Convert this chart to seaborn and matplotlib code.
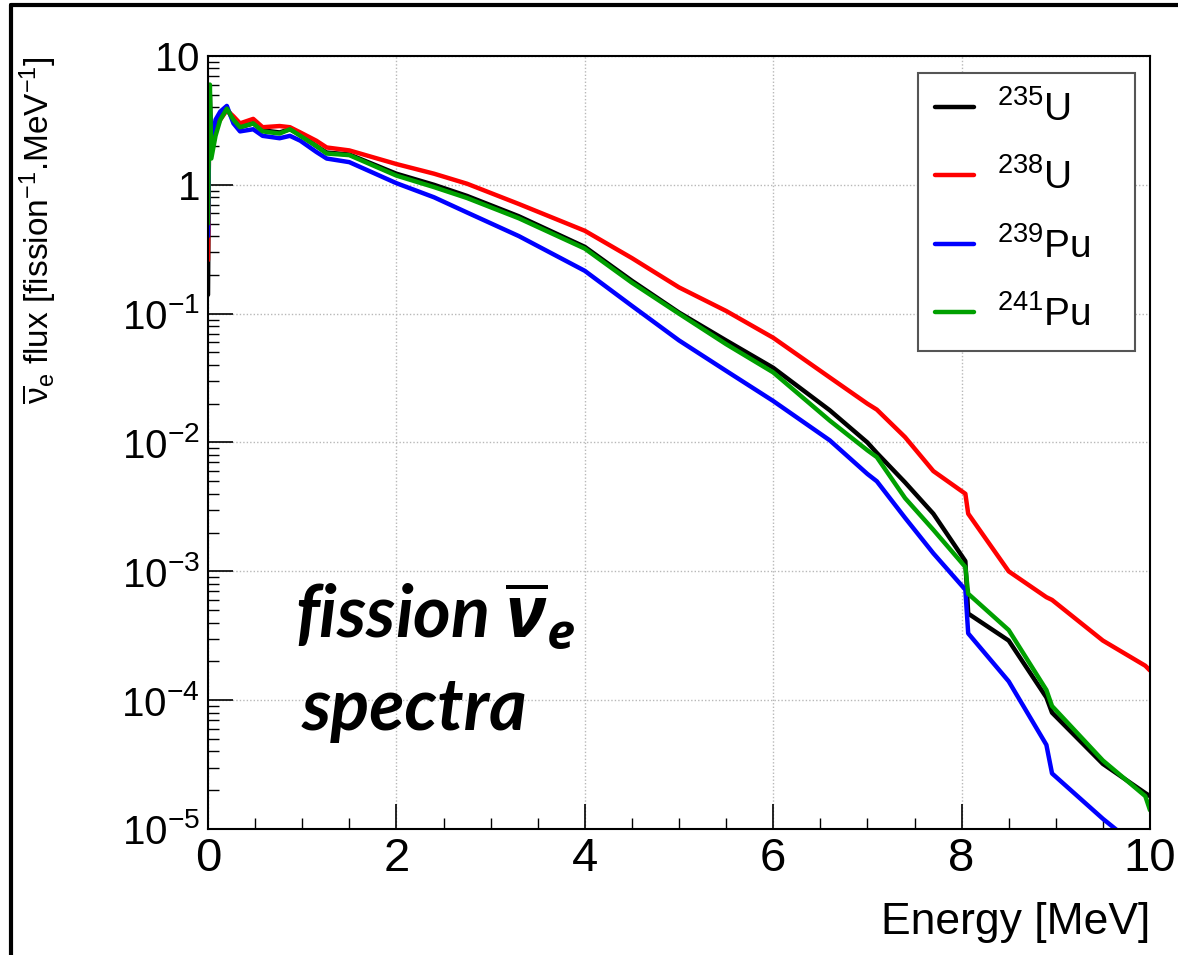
import numpy as np
import pandas as pd
import matplotlib
matplotlib.use('Agg')
import matplotlib.pyplot as plt
import seaborn as sns
from matplotlib.ticker import MultipleLocator, LogLocator, FixedLocator, FixedFormatter, NullFormatter
from matplotlib.lines import Line2D

# energy grid (MeV) and spectra
energy = [0.0, 0.01, 0.02, 0.035, 0.08, 0.13, 0.2, 0.27, 0.34, 0.48, 0.58, 0.76,
          0.87, 0.98, 1.15, 1.26, 1.5, 2.0, 2.4, 2.75, 3.3, 4.0, 4.5, 5.0, 5.5,
          6.0, 6.6, 7.0, 7.1, 7.4, 7.7, 8.04, 8.07, 8.5, 8.9, 8.96, 9.5, 9.95, 10.0]

u235 = [0.14, 2.0, 5.0, 1.8, 2.6, 3.4, 3.9, 3.2, 2.8, 3.0, 2.65, 2.55,
        2.7, 2.45, 2.0, 1.78, 1.72, 1.22, 1.0, 0.82, 0.57, 0.33, 0.18, 0.102, 0.062,
        0.038, 0.0178, 0.0100, 0.0083, 0.0049, 0.0028, 0.00120, 0.00047, 0.00029, 1.05e-4, 8.0e-5, 3.2e-5, 1.9e-5, 1.8e-5]

u238 = [0.26, 1.8, 3.0, 2.2, 2.8, 3.2, 3.8, 3.4, 3.0, 3.25, 2.8, 2.86,
        2.8, 2.55, 2.2, 1.95, 1.85, 1.45, 1.22, 1.02, 0.71, 0.44, 0.27, 0.16, 0.105,
        0.065, 0.032, 0.020, 0.018, 0.011, 0.0060, 0.0040, 0.0028, 0.0010, 6.3e-4, 6.0e-4, 2.9e-4, 1.85e-4, 1.7e-4]

pu239 = [0.40, 2.2, 3.5, 2.0, 3.2, 3.7, 4.1, 3.0, 2.6, 2.7, 2.4, 2.3,
         2.4, 2.2, 1.8, 1.6, 1.5, 1.03, 0.8, 0.61, 0.40, 0.215, 0.115, 0.062, 0.036,
         0.021, 0.0104, 0.0057, 0.0050, 0.0026, 0.00138, 0.00072, 0.00033, 1.4e-4, 4.5e-5, 2.7e-5, 1.2e-5, 6.5e-6, 6.0e-6]

pu241 = [0.50, 2.5, 6.0, 1.6, 2.4, 3.2, 3.9, 3.2, 2.8, 3.0, 2.6, 2.5,
         2.7, 2.4, 2.0, 1.75, 1.7, 1.18, 0.96, 0.79, 0.55, 0.32, 0.174, 0.10, 0.058,
         0.035, 0.0148, 0.0087, 0.0077, 0.0037, 0.0021, 0.00108, 0.00067, 3.5e-4, 1.2e-4, 9.0e-5, 3.4e-5, 1.8e-5, 1.4e-5]

isotopes = ['235U', '238U', '239Pu', '241Pu']
legend_labels = [r'$^{235}$U', r'$^{238}$U', r'$^{239}$Pu', r'$^{241}$Pu']
colors = ['#000000', '#ff0000', '#0000ff', '#00a000']

df = pd.concat([
    pd.DataFrame({'energy': energy, 'flux': vals, 'isotope': name})
    for name, vals in zip(isotopes, [u235, u238, pu239, pu241])
], ignore_index=True)

sns.set_style('white')
plt.rcParams['font.family'] = ['Liberation Sans', 'DejaVu Sans']
plt.rcParams['text.color'] = 'black'
plt.rcParams['axes.labelcolor'] = 'black'
plt.rcParams['xtick.color'] = 'black'
plt.rcParams['ytick.color'] = 'black'
plt.rcParams['mathtext.fontset'] = 'custom'
plt.rcParams['mathtext.rm'] = 'Liberation Sans'
plt.rcParams['mathtext.it'] = 'Open Sans:italic:bold'
plt.rcParams['mathtext.bf'] = 'Liberation Sans:bold'

fig = plt.figure(figsize=(11.78, 9.55), dpi=100)
ax = fig.add_axes([208 / 1178, 1 - 829 / 955, 942 / 1178, 773 / 955])

sns.lineplot(data=df, x='energy', y='flux', hue='isotope', hue_order=isotopes,
             palette=dict(zip(isotopes, colors)), estimator=None, sort=True,
             linewidth=3.2, legend=False, ax=ax)

ax.set_yscale('log')
ax.set_xlim(0, 10)
ax.set_ylim(1e-5, 10)

# ticks, ROOT style (inside, left/bottom only)
ax.xaxis.set_major_locator(MultipleLocator(2))
ax.xaxis.set_minor_locator(MultipleLocator(0.5))
yt = [1e-5, 1e-4, 1e-3, 1e-2, 1e-1, 1, 10]
ax.yaxis.set_major_locator(FixedLocator(yt))
ax.yaxis.set_major_formatter(FixedFormatter([r'$10^{-5}$', r'$10^{-4}$', r'$10^{-3}$',
                                             r'$10^{-2}$', r'$10^{-1}$', r'$1$', r'$10$']))
ax.yaxis.set_minor_locator(LogLocator(base=10, subs=np.arange(2, 10)))
ax.yaxis.set_minor_formatter(NullFormatter())
ax.tick_params(which='both', direction='in', bottom=True, left=True, top=False, right=False)
ax.tick_params(which='major', length=18, width=1.2, pad=6)
ax.tick_params(which='minor', length=8, width=1.0)
ax.tick_params(axis='x', labelsize=34)
ax.tick_params(axis='y', labelsize=29)

ax.grid(True, which='major', linestyle=(0, (1, 1.5)), color='#b8b8b8', linewidth=1)
for s in ax.spines.values():
    s.set_color('black')
    s.set_linewidth(1.5)

ax.set_xlabel('Energy [MeV]', fontsize=32, loc='right')
ax.xaxis.set_label_coords(1.0, -0.095)
ax.set_ylabel(r'$\overline{\mathrm{\nu}}_{\mathrm{e}}$ flux [fission$^{\mathrm{-1}}$.MeV$^{\mathrm{-1}}$]',
              fontsize=24, loc='top')
ax.yaxis.set_label_coords(-0.158, 1.0)

ax.legend(handles=ax.lines[:4], labels=legend_labels, loc='upper left',
          bbox_to_anchor=(0.7537, 0.616, 0.2304, 0.362), mode='expand',
          fontsize=28, frameon=True, fancybox=False,
          edgecolor='#555555', framealpha=1, handlelength=1.0, handletextpad=0.6,
          labelspacing=0.77, borderpad=0.44, borderaxespad=0)
ax.get_legend().get_frame().set_linewidth(1.5)

ax.text(0.092, 0.248, r'fission $\overline{\nu}_e$', transform=ax.transAxes,
        fontsize=52, fontfamily='Lato', fontweight='bold', fontstyle='italic', va='baseline')
ax.text(0.099, 0.128, 'spectra', transform=ax.transAxes,
        fontsize=52, fontfamily='Lato', fontweight='bold', fontstyle='italic', va='baseline')

# screenshot border on left and top
fig.add_artist(Line2D([0.009, 0.009], [0, 0.995], transform=fig.transFigure, color='black', lw=3))
fig.add_artist(Line2D([0.009, 1], [0.995, 0.995], transform=fig.transFigure, color='black', lw=3))

fig.savefig('out.png', dpi=100, facecolor='white')
